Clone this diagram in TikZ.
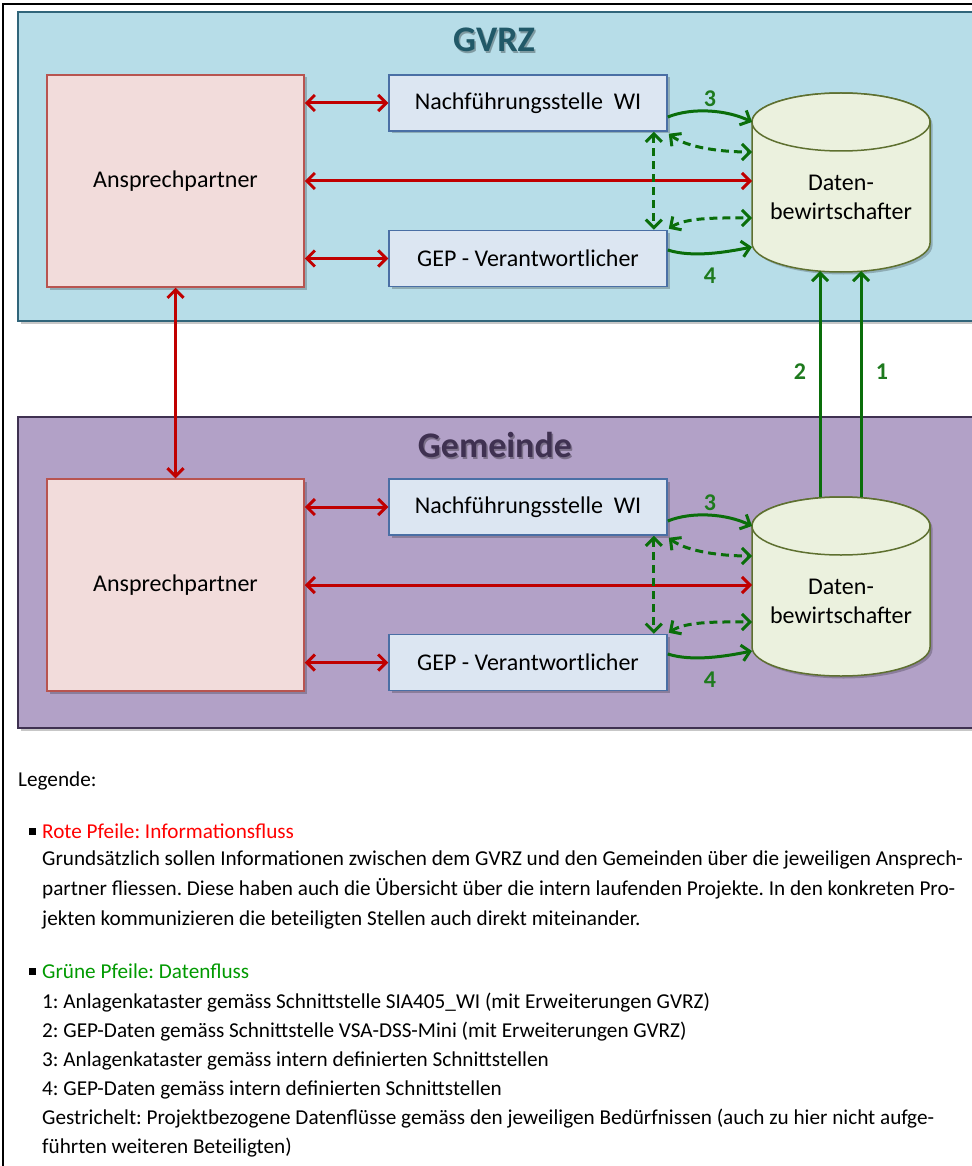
\documentclass[tikz,border=0pt]{standalone}
\usepackage{fontspec}
\setmainfont{Carlito}
\usetikzlibrary{arrows.meta,calc}
\definecolor{gvfill}{HTML}{B7DDE8}
\definecolor{gvline}{HTML}{31657A}
\definecolor{gvtitle}{HTML}{215968}
\definecolor{gmfill}{HTML}{B2A1C7}
\definecolor{gmline}{HTML}{3F3151}
\definecolor{gmtitle}{HTML}{3F3151}
\definecolor{apfill}{HTML}{F2DCDB}
\definecolor{apline}{HTML}{B85450}
\definecolor{stfill}{HTML}{DCE6F2}
\definecolor{stline}{HTML}{4A6FA5}
\definecolor{dbfill}{HTML}{EBF1DE}
\definecolor{dbline}{HTML}{5E7030}
\definecolor{arred}{HTML}{C00000}
\definecolor{argreen}{HTML}{0A6E0A}
\definecolor{lblgreen}{HTML}{1E7A1E}
\definecolor{lgred}{HTML}{FF0000}
\definecolor{lggreen}{HTML}{009A00}
\tikzset{
  shad/.style={preaction={fill=black,opacity=.22,transform canvas={xshift=2.5pt,yshift=-2.5pt}}},
  apbox/.style={shad,draw=apline,fill=apfill,line width=1.5pt,minimum width=257pt,minimum height=212pt,inner sep=0pt,font=\fontsize{24}{28}\selectfont},
  stbox/.style={shad,draw=stline,fill=stfill,line width=1.5pt,minimum width=278pt,minimum height=56pt,inner sep=0pt,font=\fontsize{24}{28}\selectfont},
  dbbox/.style={minimum width=178pt,minimum height=178pt,inner sep=0pt,outer sep=0pt},
  dbtext/.style={align=center,font=\fontsize{24}{29}\selectfont,inner sep=0pt},
  cyl/.style={draw=dbline,fill=dbfill,line width=1.5pt},
  redarr/.style={draw=arred,line width=3pt,{Straight Barb[length=8pt,width=16pt]}-{Straight Barb[length=8pt,width=16pt]}},
  grarr/.style={draw=argreen,line width=3pt,-{Straight Barb[length=8pt,width=16pt]}},
  grdash/.style={draw=argreen,line width=3pt,dash pattern=on 8pt off 5pt,{Straight Barb[length=8pt,width=16pt]}-{Straight Barb[length=8pt,width=16pt]}},
  numlbl/.style={text=lblgreen,font=\bfseries\fontsize{24}{24}\selectfont,inner sep=0pt},
  lg/.style={font=\frenchspacing\fontsize{21.2}{25}\selectfont,inner sep=0pt,anchor=base west},
}
\newcommand\grp[2]{%
  \begin{scope}[shift={(0,#2)}]
    \node[apbox] (ap#1) at (175.5,181) {Ansprechpartner};
    \node[stbox] (nf#1) at (528,103) {Nachführungsstelle\ \ WI};
    \node[stbox] (gep#1) at (528,258.5) {GEP - Verantwortlicher};
    \draw[cyl,shad] (752,122) -- (752,243) arc[start angle=180,end angle=360,x radius=89pt,y radius=29pt]
      -- (930,122) arc[start angle=0,end angle=180,x radius=89pt,y radius=29pt] -- cycle;
    \draw[cyl] (841,122) ellipse[x radius=89pt,y radius=29pt];
    \node[dbbox] (db#1) at (841,182) {};
    \node[dbtext] (dbt#1) at (841,197) {Daten-\\bewirtschafter};
    \draw[redarr] (ap#1.east |- nf#1.west) -- (nf#1.west);
    \draw[redarr] (ap#1.east) -- (ap#1.east -| db#1.west);
    \draw[redarr] (ap#1.east |- gep#1.west) -- (gep#1.west);
    \draw[grarr] ([yshift=-14pt]nf#1.east) .. controls +(25,-10) and +(-25,-12) .. ([yshift=-29pt]db#1.north west);
    \draw[grdash] ([xshift=1pt,yshift=-2pt]nf#1.south east) .. controls +(18,14) and +(-30,0) .. ([yshift=-59pt]db#1.north west);
    \draw[grdash] ([xshift=-14pt]nf#1.south east) -- ([xshift=-14pt]gep#1.north east);
    \draw[grdash] ([xshift=1pt,yshift=1pt]gep#1.north east) .. controls +(18,-12) and +(-30,0) .. ([yshift=-125pt]db#1.north west);
    \draw[grarr] ([yshift=8.5pt]gep#1.east) .. controls +(25,8) and +(-25,5) .. ([yshift=-154pt]db#1.north west);
    \node[numlbl] (n3#1) at (710,99) {3};
    \node[numlbl] (n4#1) at (710,276) {4};
  \end{scope}}
\begin{document}
\begin{tikzpicture}[x=1pt,y=-1pt]
\useasboundingbox (0,0) rectangle (971,1166);
\fill[white] (0,0) rectangle (971,1166);
\draw[line width=1.5pt] (3,1170) -- (3,4) -- (975,4);
% panels
\draw[shad,fill=gvfill,draw=gvline,line width=2.5pt] (18,12) rectangle (985,321);
\draw[shad,fill=gmfill,draw=gmline,line width=2.5pt] (18,417) rectangle (985,728);
\node[text=black,opacity=.3,font=\bfseries\fontsize{36}{36}\selectfont] (gvs) at (495.5,41.5) {GVRZ};
\node[text=gvtitle,font=\bfseries\fontsize{36}{36}\selectfont] (gvt) at (494,40) {GVRZ};
\node[text=black,opacity=.3,font=\bfseries\fontsize{36}{36}\selectfont] (gms) at (496.5,446.5) {Gemeinde};
\node[text=gmtitle,font=\bfseries\fontsize{36}{36}\selectfont] (gmt) at (495,445) {Gemeinde};
\grp{1}{0}
\grp{2}{404}
\draw[redarr] (ap1.south) -- (ap2.north);
\draw[grarr] ([xshift=-21pt]db2.north) -- ([xshift=-21pt]db1.south);
\draw[grarr] ([xshift=20pt]db2.north) -- ([xshift=20pt]db1.south);
\node[numlbl] (n2) at (800,372) {2};
\node[numlbl] (n1) at (882,372) {1};
% legend
\node[lg] (lg0) at (18,786) {Legende:};
\fill (29,828) rectangle (36,835);
\node[lg,text=lgred] (lg1) at (42,838) {Rote Pfeile: Informationsfluss};
\node[lg] (lg2) at (42,865) {Grundsätzlich sollen Informationen zwischen dem GVRZ und den Gemeinden über die jeweiligen Ansprech-};
\node[lg] (lg3) at (42,895) {partner fliessen. Diese haben auch die Übersicht über die intern laufenden Projekte. In den konkreten Pro-};
\node[lg] (lg4) at (42,925) {jekten kommunizieren die beteiligten Stellen auch direkt miteinander.};
\fill (29,968) rectangle (36,975);
\node[lg,text=lggreen] (lg5) at (42,978) {Grüne Pfeile: Datenfluss};
\node[lg] (lg6) at (42,1008) {1: Anlagenkataster gemäss Schnittstelle SIA405\_WI (mit Erweiterungen GVRZ)};
\node[lg] (lg7) at (42,1037) {2: GEP-Daten gemäss Schnittstelle VSA-DSS-Mini (mit Erweiterungen GVRZ)};
\node[lg] (lg8) at (42,1066) {3: Anlagenkataster gemäss intern definierten Schnittstellen};
\node[lg] (lg9) at (42,1095) {4: GEP-Daten gemäss intern definierten Schnittstellen};
\node[lg] (lg10) at (42,1124) {Gestrichelt: Projektbezogene Datenflüsse gemäss den jeweiligen Bedürfnissen (auch zu hier nicht aufge-};
\node[lg] (lg11) at (42,1153) {führten weiteren Beteiligten)};
\end{tikzpicture}
\end{document}
